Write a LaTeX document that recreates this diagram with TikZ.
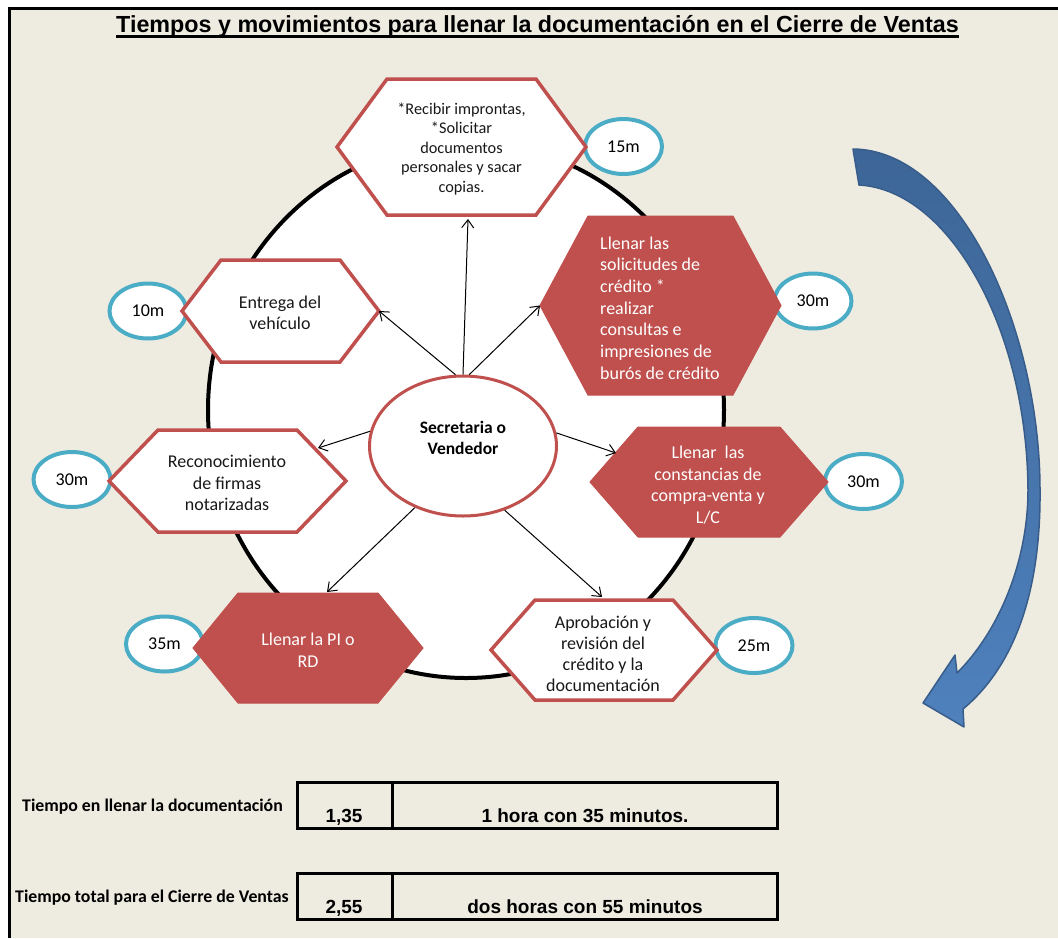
\documentclass[tikz,border=0pt]{standalone}
\usepackage{fontspec}
\setmainfont{Carlito}
\newfontfamily\arialfont{Liberation Sans}
\usetikzlibrary{shapes.geometric,arrows.meta}

\definecolor{pagebg}{HTML}{EEECE1}
\definecolor{hexred}{HTML}{C0504D}
\definecolor{ovalblue}{HTML}{4BACC6}
\definecolor{arrowtop}{HTML}{3D6697}
\definecolor{arrowbot}{HTML}{4F81BD}
\definecolor{arrowline}{HTML}{385D8A}

\newcommand\setfs[2]{\fontsize{#1pt}{#2pt}\selectfont}

% hexagon: style, cx, cy, half width, half height, inset, name
\newcommand\hexagonbox[7]{%
  \draw[#1] (#2-#4,#3) coordinate (#7-l)
    -- (#2-#4+#6,#3-#5) coordinate (#7-tl)
    -- (#2+#4-#6,#3-#5) coordinate (#7-tr)
    -- (#2+#4,#3) coordinate (#7-r)
    -- (#2+#4-#6,#3+#5) coordinate (#7-br)
    -- (#2-#4+#6,#3+#5) coordinate (#7-bl)
    -- cycle;}

\tikzset{
  hexplain/.style={draw=hexred, line width=3.5pt, fill=white, line join=miter},
  hexfilled/.style={draw=hexred, line width=1pt, fill=hexred, line join=miter},
  darktext/.style={text=black!90, align=center, inner sep=0pt, font=\setfs{18}{21.5}},
  lighttext/.style={text=white, align=center, inner sep=0pt, font=\setfs{18}{21.7}},
  timeoval/.style={ellipse, draw=ovalblue, line width=4pt, fill=white,
    minimum width=77pt, minimum height=55pt, inner sep=0pt, font=\setfs{18}{21}},
  hub/.style={ellipse, draw=hexred, line width=3pt, fill=white,
    minimum width=187pt, minimum height=140pt, inner sep=0pt},
  hubtext/.style={align=center, inner sep=0pt, font=\bfseries\setfs{17.5}{21.7}},
  ring/.style={ellipse, draw=black, line width=4pt, fill=white,
    minimum width=516pt, minimum height=536pt, inner sep=0pt},
  spoke/.style={-{Straight Barb[length=8pt,width=12pt]}, line width=1pt},
  cellbox/.style={draw=black, line width=3pt, minimum height=46pt, inner sep=0pt},
  celltext/.style={font=\arialfont\bfseries\setfs{19}{22}, inner sep=0pt, anchor=base},
  rowlabel/.style={font=\bfseries\setfs{17.8}{21}, inner sep=0pt, anchor=base west},
}

\begin{document}
\begin{tikzpicture}[x=1pt,y=-1pt]
\useasboundingbox (0,0) rectangle (1058,938);

% page and frame
\fill[white] (0,0) rectangle (1058,938);
\fill[pagebg] (9,8) rectangle (1058,938);
\draw[line width=3pt] (9,938) -- (9,8) -- (1058,8);

% title
\node[font=\arialfont\bfseries\setfs{23.3}{28}, inner sep=0pt, anchor=base] (title) at (537.5,32)
  {Tiempos y movimientos para llenar la documentación en el Cierre de Ventas};
\draw[line width=2.5pt] ([yshift=-4.5pt]title.base west) -- ([yshift=-4.5pt]title.base east);

% big ring
\node[ring] (ring) at (466,410) {};

% time ovals (behind the hexagons)
\node[timeoval] (t1) at (623.5,146.5) {15m};
\node[timeoval] (t2) at (813,301) {30m};
\node[timeoval] (t3) at (863.5,481.5) {30m};
\node[timeoval] (t4) at (754,645.5) {25m};
\node[timeoval] (t5) at (164.5,644) {35m};
\node[timeoval] (t6) at (72,479.5) {30m};
\node[timeoval] (t7) at (148,311) {10m};

% hexagons
\hexagonbox{hexplain}{461.5}{147}{124.5}{68}{50}{h1}
\hexagonbox{hexfilled}{660.5}{305.5}{120.5}{89.5}{48}{h2}
\hexagonbox{hexfilled}{709}{482}{119}{55}{48}{h3}
\hexagonbox{hexplain}{604}{650}{113}{50}{44}{h4}
\hexagonbox{hexfilled}{308}{648}{115}{55}{45}{h5}
\hexagonbox{hexplain}{227.5}{481}{118.5}{51}{49}{h6}
\hexagonbox{hexplain}{280.5}{311}{98.5}{51}{39}{h7}

% hexagon texts
\node[darktext, font=\setfs{16.3}{19.5}] (x1) at (461.5,149)
  {*Recibir improntas,\\{*}Solicitar\\documentos\\personales y sacar\\copias.};
\node[lighttext, align=left, anchor=west] (x2) at (600,308)
  {Llenar las\\solicitudes de\\crédito *\\realizar\\consultas e\\impresiones de\\burós de crédito};
\node[lighttext] (x3) at (708,485)
  {Llenar~ las\\constancias de\\compra-venta y\\L/C};
\node[darktext, font=\setfs{18}{21}] (x4) at (603,654)
  {Aprobación y\\revisión del\\crédito y la\\documentación};
\node[lighttext] (x5) at (308,650) {Llenar la PI o\\RD};
\node[darktext] (x6) at (227,483) {Reconocimiento\\de firmas\\notarizadas};
\node[darktext] (x7) at (280,313) {Entrega del\\vehículo};

% central node
\node[hub] (sv) at (463,446) {};
\node[hubtext] (svlabel) at (463,438) {Secretaria o\\Vendedor};

% arrow targets on the hexagons
\coordinate (a1) at (468,219);
\coordinate (a4) at (318,448);
\coordinate (a5) at (616,453);
\coordinate (a6) at (327,592);
\coordinate (a7) at (602,597);

% spokes
\draw[spoke] (sv.90) -- (a1);
\draw[spoke] (sv.96) -- (h7-r);
\draw[spoke] (sv.85) -- (h2-l);
\draw[spoke] (sv.171) -- (a4);
\draw[spoke] (sv.8) -- (a5);
\draw[spoke] (sv.232) -- (a6);
\draw[spoke] (sv.303) -- (a7);

% curved block arrow
\shade[top color=arrowtop, bottom color=arrowbot, draw=arrowline, line width=1.5pt, line join=round]
  (853,149) .. controls (960,150) and (1040,330) .. (1040,490)
  .. controls (1041,600) and (1010,670) .. (963,709)
  -- (964,727) -- (923,703) -- (955,655) -- (957,673)
  .. controls (1000,630) and (1028,560) .. (1028,490)
  .. controls (1027,330) and (950,190) .. (859,185) -- cycle;

% summary rows
\node[rowlabel] (r1) at (22,811) {Tiempo en llenar la documentación};
\node[cellbox, minimum width=95pt] (b1a) at (344.5,805) {};
\node[cellbox, minimum width=385pt] (b1b) at (584.5,805) {};
\node[celltext] (v1) at (344,822) {1,35};
\node[celltext] (w1) at (585,822) {1 hora con 35 minutos.};

\node[rowlabel] (r2) at (15,902) {Tiempo total para el Cierre de Ventas};
\node[cellbox, minimum width=95pt] (b2a) at (344.5,896) {};
\node[cellbox, minimum width=385pt] (b2b) at (584.5,896) {};
\node[celltext] (v2) at (344,913) {2,55};
\node[celltext] (w2) at (585,913) {dos horas con 55 minutos};
\end{tikzpicture}
\end{document}
